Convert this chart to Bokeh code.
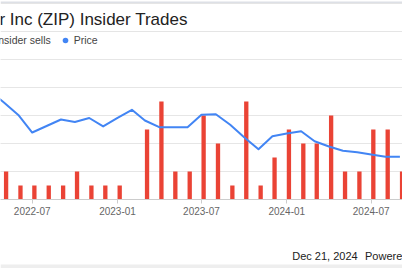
import datetime as dt

from bokeh.embed import file_html
from bokeh.layouts import column
from bokeh.models import (BoxAnnotation, ColumnDataSource, DatetimeTickFormatter,
                          FixedTicker, Grid, Label, Legend, LegendItem, Range1d)
from bokeh.plotting import figure
from bokeh.resources import INLINE

# Monthly insider sell counts
sell_months = ["2022-05", "2022-06", "2022-07", "2022-08", "2022-09", "2022-10",
               "2022-11", "2022-12", "2023-01", "2023-02", "2023-03", "2023-04",
               "2023-05", "2023-06", "2023-07", "2023-08", "2023-09", "2023-10",
               "2023-11", "2023-12", "2024-01", "2024-02", "2024-03", "2024-04",
               "2024-05", "2024-06", "2024-07", "2024-08", "2024-09"]
sell_counts = [2, 1, 1, 1, 1, 2, 1, 1, 1, 0, 5, 7, 2, 2, 6, 4, 1, 7, 1, 3,
               5, 4, 4, 6, 2, 2, 5, 5, 2]

# Monthly share price (USD)
price_months = ["2022-04", "2022-05", "2022-06", "2022-07", "2022-08", "2022-09",
                "2022-10", "2022-11", "2022-12", "2023-01", "2023-02", "2023-03",
                "2023-04", "2023-05", "2023-06", "2023-07", "2023-08", "2023-09",
                "2023-10", "2023-11", "2023-12", "2024-01", "2024-02", "2024-03",
                "2024-04", "2024-05", "2024-06", "2024-07", "2024-08", "2024-09"]
price_values = [19.32, 17.32, 15.09, 11.96, 13.13, 14.29, 13.84, 14.55, 13.04,
                14.59, 16.02, 14.11, 12.91, 12.91, 12.91, 15.13, 15.23, 13.34,
                11.13, 8.98, 11.30, 11.79, 12.20, 10.41, 9.46, 8.70, 8.45,
                8.04, 7.63, 7.63]

tick_months = ["2022-07", "2023-01", "2023-07", "2024-01", "2024-07"]

FONT = "Liberation Sans"
RED = "#ea4335"
BLUE = "#4285f4"
W = 402


def month_start(m):
    y, mo = m.split("-")
    return dt.datetime(int(y), int(mo), 1)


DAY_MS = 86400000
bar_days = 9.3

bar_src = ColumnDataSource(dict(
    x=[month_start(m) + dt.timedelta(days=bar_days / 2) for m in sell_months],
    count=sell_counts,
))
price_src = ColumnDataSource(dict(
    x=[month_start(m) for m in price_months],
    price=price_values,
))

x_start = dt.datetime(2022, 4, 23, 14)
x_end = x_start + dt.timedelta(days=867)

# The frame runs from the top of the card down to the time axis; the counts
# scale keeps 14 px per trade, so the header area sits above count 10.
FRAME_H = 199
PX_PER_TRADE = 14
count_top = FRAME_H / PX_PER_TRADE
price_top = 25 * count_top / 10

p = figure(width=W, height=238, x_axis_type="datetime", y_axis_location=None,
           toolbar_location=None, output_backend="svg", title=None,
           x_range=Range1d(x_start, x_end), y_range=Range1d(0, count_top),
           min_border_left=0, min_border_right=0,
           min_border_top=0, min_border_bottom=238 - FRAME_H,
           outline_line_color=None, background_fill_color="white",
           border_fill_color="white")
p.extra_y_ranges = {"price": Range1d(0, price_top)}

p.xgrid.visible = False
p.add_layout(Grid(dimension=1, ticker=FixedTicker(ticks=[2, 4, 6, 8, 10]),
                  grid_line_color="#e6e6e6", grid_line_width=1))

bars = p.vbar(x="x", top="count", width=bar_days * DAY_MS, source=bar_src,
              fill_color=RED, line_color=None)
line = p.line(x="x", y="price", source=price_src, y_range_name="price",
              line_color=BLUE, line_width=2, line_join="round")
# zero-size markers on the price points; they only supply the legend dot
dot = p.scatter(x="x", y="price", source=price_src, y_range_name="price",
                marker="circle", size=0, fill_color=BLUE, line_color=None)

ax = p.xaxis[0]
ax.ticker = FixedTicker(ticks=[month_start(m).timestamp() * 1000 for m in tick_months])
ax.formatter = DatetimeTickFormatter(days="%Y-%m", months="%Y-%m", years="%Y-%m")
ax.axis_line_color = "#cccccc"
ax.major_tick_line_color = "#cccccc"
ax.major_tick_out = 4
ax.major_tick_in = 0
ax.minor_tick_line_color = None
ax.major_label_text_font = FONT
ax.major_label_text_font_size = "10px"
ax.major_label_text_color = "#666666"
ax.major_label_standoff = 3

legend = Legend(
    items=[LegendItem(label="Insider sells", renderers=[bars]),
           LegendItem(label="Price", renderers=[dot])],
    orientation="horizontal", location=(-20.7, 152.3),
    glyph_width=14, glyph_height=14, label_height=14, label_width=10,
    label_standoff=2, spacing=7, padding=0, margin=0,
    border_line_color=None, background_fill_alpha=0,
    label_text_font=FONT, label_text_font_size="10.5px",
    label_text_color="#444444",
)
p.add_layout(legend)

p.add_layout(Label(x=-88, y=179.7, x_units="screen", y_units="screen",
                   text="ZipRecruiter Inc (ZIP) Insider Trades",
                   text_font=FONT, text_font_size="17px",
                   text_color="#222222", text_baseline="alphabetic"))

# card border along the top
p.add_layout(BoxAnnotation(left=0, right=W, top=198, bottom=196.6,
                           left_units="screen", right_units="screen",
                           top_units="screen", bottom_units="screen",
                           fill_color="#dde0e6", fill_alpha=1, line_color=None))

# footer strip with the date stamp
FOOT_H = 30
foot = figure(width=W, height=FOOT_H, toolbar_location=None, output_backend="svg",
              title=None, x_axis_location=None, y_axis_location=None,
              x_range=Range1d(0, W), y_range=Range1d(0, FOOT_H),
              min_border=0, outline_line_color=None,
              background_fill_color="white", border_fill_color="white")
foot.grid.visible = False
foot.quad(left=[0], right=[W], bottom=[0], top=[4],
          fill_color="#eeeeee", line_color=None)
foot.add_layout(Label(x=291.7, y=13, text="Dec 21, 2024", text_font=FONT,
                      text_font_size="11px", text_color="#222222",
                      text_baseline="middle"))
foot.add_layout(Label(x=364.5, y=13, text="Powered by", text_font=FONT,
                      text_font_size="11px", text_color="#222222",
                      text_baseline="middle"))

layout = column(p, foot, spacing=0)
open("out.html", "w").write(file_html(layout, INLINE))
